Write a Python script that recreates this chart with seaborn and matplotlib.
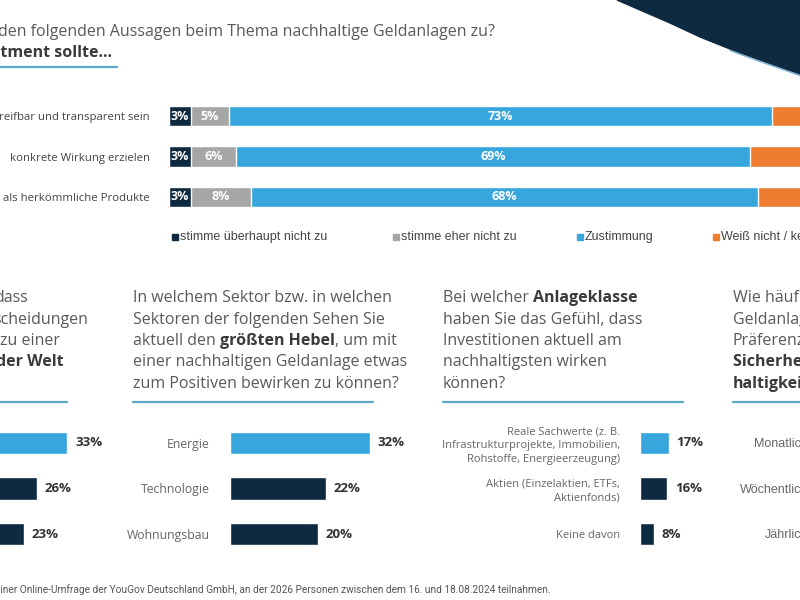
import numpy as np
import pandas as pd
import matplotlib.pyplot as plt
import matplotlib.patches as mpatches
from matplotlib.lines import Line2D
import seaborn as sns

sns.set_theme(style="white")
plt.rcParams['font.family'] = ['Open Sans', 'DejaVu Sans']

# ---- data ----
top_labels = ["greifbar und transparent sein", "konkrete Wirkung erzielen", "als herkömmliche Produkte"]
top_disagree = [3, 3, 3]
top_rather_not = [5, 6, 8]
top_agree = [73, 69, 68]
top_dontknow = [19, 22, 21]
legend_labels = ["stimme überhaupt nicht zu", "stimme eher nicht zu", "Zustimmung", "Weiß nicht / keine Angabe"]

panel1_values = [33, 26, 23]
sector_labels = ["Energie", "Technologie", "Wohnungsbau"]
sector_values = [32, 22, 20]
asset_labels = ["Reale Sachwerte (z. B.\nInfrastrukturprojekte, Immobilien,\nRohstoffe, Energieerzeugung)",
                "Aktien (Einzelaktien, ETFs,\nAktienfonds)",
                "Keine davon"]
asset_values = [17, 16, 8]
freq_labels = ["Monatlich", "Wöchentlich", "Jährlich"]

NAVY = '#0e2a40'
GRAY = '#a6a6a6'
BLUE = '#36a6dd'
ORANGE = '#ee7d31'
TEXT = '#595959'
DARK = '#3a3a3a'
LINE = '#5aa9cc'

W, H = 800, 600
fig = plt.figure(figsize=(8, 6), dpi=100)
fig.patch.set_facecolor('white')
renderer = fig.canvas.get_renderer()


def fx(x):
    return x / W


def fy(y):
    return 1 - y / H


def axes_px(l, t, r, b):
    ax = fig.add_axes([l / W, 1 - b / H, (r - l) / W, (b - t) / H])
    ax.set_facecolor('none')
    return ax


def text_width(s, **kw):
    t = fig.text(0, 0, s + '|', **kw)
    t2 = fig.text(0, 0, '|', **kw)
    w = t.get_window_extent(renderer).width - t2.get_window_extent(renderer).width
    t.remove()
    t2.remove()
    return w


def rich_line(x, y, parts, size, ha='left'):
    styles = []
    for s, bold in parts:
        styles.append(dict(fontsize=size, fontweight='bold' if bold else 'normal',
                           color=DARK if bold else TEXT))
    if ha == 'right':
        x -= sum(text_width(s, **kw) for (s, _), kw in zip(parts, styles))
    for (s, _), kw in zip(parts, styles):
        fig.text(fx(x), fy(y), s, va='baseline', **kw)
        x += text_width(s, **kw)


def hline(x0, x1, y):
    fig.add_artist(Line2D([fx(x0), fx(x1)], [fy(y), fy(y)], color=LINE, lw=1.6,
                          transform=fig.transFigure))


def clean(ax):
    for s in ax.spines.values():
        s.set_visible(False)
    ax.set_xticks([])
    ax.set_xlabel('')
    ax.set_ylabel('')


# ---- decorative dark shape top right ----
curve = [(617, 0), (640, 10), (670, 23), (700, 37), (730, 49), (760, 60), (800, 74)]
poly = [(fx(x), fy(y)) for x, y in curve + [(800, 0)]]
fig.patches.append(mpatches.Polygon(poly, closed=True, color=NAVY, transform=fig.transFigure))
edge = [(x, y + 1.5) for x, y in curve[4:]]
fig.add_artist(Line2D([fx(x) for x, _ in edge], [fy(y) for _, y in edge], color='#3f8fc4',
                      lw=1.0, alpha=0.7, transform=fig.transFigure))

# ---- title ----
fig.text(fx(-2), fy(36), "den folgenden Aussagen beim Thema nachhaltige Geldanlagen zu?",
         fontsize=11.5, color=TEXT, va='baseline')
rich_line(112, 57, [("Investment sollte...", True)], 11.5, ha='right')
hline(0, 117, 67)

# ---- top stacked bar chart ----
df_top = pd.DataFrame({'label': top_labels, 'a': top_disagree, 'b': top_rather_not,
                       'c': top_agree, 'd': top_dontknow})
df_top['c1'] = df_top['a']
df_top['c2'] = df_top['c1'] + df_top['b']
df_top['c3'] = df_top['c2'] + df_top['c']
df_top['c4'] = df_top['c3'] + df_top['d']

ax = axes_px(169, 96, 800, 217)
for col, color in [('c4', ORANGE), ('c3', BLUE), ('c2', GRAY), ('c1', NAVY)]:
    sns.barplot(data=df_top, x=col, y='label', color=color, width=0.5, saturation=1,
                errorbar=None, ax=ax)
ax.set_xlim(0, (800 - 169) / 7.45)
ax.set_ylim(2.5, -0.5)
clean(ax)
ax.tick_params(axis='y', length=0, pad=13.7, labelsize=8.2, labelcolor='#444444')
for i, row in df_top.iterrows():
    left = 0
    for key in ['a', 'b', 'c']:
        v = row[key]
        ax.text(left + v / 2, i, f'{v}%', ha='center', va='center', color='white',
                fontsize=9, fontweight='bold', clip_on=True)
        left += v

# legend
leg_x = [172, 393, 577, 713]
leg_c = [NAVY, GRAY, BLUE, ORANGE]
for x, c, lab in zip(leg_x, leg_c, legend_labels):
    fig.patches.append(mpatches.Rectangle((fx(x), fy(240)), 6 / W, 6 / H, color=c,
                                          transform=fig.transFigure))
    fig.text(fx(x + 8), fy(237), lab, fontsize=9, color='#444444', va='center',
             family=['Liberation Sans', 'DejaVu Sans'])

# ---- question texts ----
base = [302, 323.5, 345, 366.5, 388]
q1 = [[("dass", False)], [("scheidungen", False)], [("zu einer", False)], [("der Welt", True)]]
q1_end = [28, 88, 60, 64]
for parts, y, e in zip(q1, base, q1_end):
    rich_line(e, y, parts, 11.5, ha='right')

q2 = [[("In welchem Sektor bzw. in welchen", False)],
      [("Sektoren der folgenden Sehen Sie", False)],
      [("aktuell den ", False), ("größten Hebel", True), (", um mit", False)],
      [("einer nachhaltigen Geldanlage etwas", False)],
      [("zum Positiven bewirken zu können?", False)]]
for parts, y in zip(q2, base):
    rich_line(133, y, parts, 11.5)

q3 = [[("Bei welcher ", False), ("Anlageklasse", True)],
      [("haben Sie das Gefühl, dass", False)],
      [("Investitionen aktuell am", False)],
      [("nachhaltigsten wirken", False)],
      [("können?", False)]]
for parts, y in zip(q3, base):
    rich_line(443, y, parts, 11.5)

q4 = [[("Wie häufig", False)], [("Geldanlagen", False)], [("Präferenzen", False)],
      [("Sicherheit und Nach-", True)], [("haltigkeit", True)]]
for parts, y in zip(q4, base):
    rich_line(733, y, parts, 11.5)

for x0, x1 in [(0, 67), (133, 373), (443, 683), (733, 800)]:
    hline(x0, x1, 402)

# ---- bottom bar panels ----
def panel(ax, labels, values, scale, width_px, first_color=BLUE):
    df = pd.DataFrame({'label': labels, 'value': values})
    sns.barplot(data=df, x='value', y='label', hue='label', legend=False,
                palette=[first_color, NAVY, NAVY], width=0.49, saturation=1,
                errorbar=None, ax=ax)
    ax.set_xlim(0, width_px / scale)
    ax.set_ylim(2.5, -0.5)
    clean(ax)
    for cont in ax.containers:
        ax.bar_label(cont, labels=[f'{int(b.get_width())}%' for b in cont], padding=5.5,
                     fontsize=9.5, fontweight='bold', color='#333333')


a1 = axes_px(-77, 420.25, 73, 556.75)
panel(a1, ['p1', 'p2', 'p3'], panel1_values, 4.375, 150)
a1.set_yticks([])

a2 = axes_px(230, 420.25, 380, 556.75)
panel(a2, sector_labels, sector_values, 4.375, 150)
a2.tick_params(axis='y', length=0, pad=14.4, labelsize=8.8, labelcolor='#666666')

a3 = axes_px(640, 420.25, 700, 556.75)
panel(a3, asset_labels, asset_values, 1.7, 60)
a3.tick_params(axis='y', length=0, pad=14.4, labelsize=8, labelcolor='#666666')
for t in a3.get_yticklabels():
    t.set_linespacing(1.35)

a4 = axes_px(828, 420.25, 900, 556.75)
a4.set_ylim(2.5, -0.5)
a4.set_yticks([0, 1, 2])
a4.set_yticklabels(freq_labels)
clean(a4)
a4.tick_params(axis='y', length=0, pad=14.4, labelsize=9, labelcolor='#666666')
for t in a4.get_yticklabels():
    t.set_family(['Liberation Sans', 'DejaVu Sans'])

# ---- footer ----
fig.text(fx(-5), fy(593),
         "einer Online-Umfrage der YouGov Deutschland GmbH, an der 2026 Personen zwischen dem 16. und 18.08.2024 teilnahmen.",
         fontsize=7.3, color='#555555', va='baseline', family=['Roboto', 'DejaVu Sans'])

fig.savefig('out.png', dpi=100)
